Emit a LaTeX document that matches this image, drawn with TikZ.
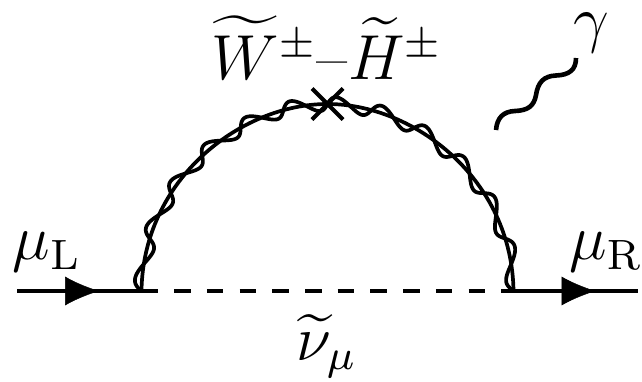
\documentclass[tikz,border=0pt]{standalone}
\usepackage{amsmath}
\usetikzlibrary{decorations.markings,arrows.meta}
\tikzset{
 fermion/.style={line width=4.2pt,postaction={decorate},decoration={markings,mark=at position 82pt with {\arrow[line width=0.5pt]{Latex[length=34pt,width=29pt]}}}},
 scalar/.style={line width=4.2pt,dash pattern=on 16.5pt off 16.2pt},
 base/.style={line width=3.7pt},
 wave/.style={line width=3.7pt,line join=round},
 crossmark/.style={line width=4.2pt},
 photon/.style={line width=4.6pt,line cap=butt},
 lab/.style={inner sep=0pt,font=\fontsize{12}{12}\selectfont,scale=5.3},
 declare function={
  bx(\t)=(1-\t)^3*141.5+3*(1-\t)^2*\t*143+3*(1-\t)*\t^2*240+\t^3*327.5;
  by(\t)=(1-\t)^3*291+3*(1-\t)^2*\t*180+3*(1-\t)*\t^2*104+\t^3*104;
  dbx(\t)=3*(1-\t)^2*0.015+6*(1-\t)*\t*0.97+3*\t^2*0.875;
  dby(\t)=3*(1-\t)^2*(-1.11)+6*(1-\t)*\t*(-0.76);
  sv(\t)=sin(2160*\t);
  tx(\t)=dbx(\t)/veclen(dbx(\t),dby(\t));
  ty(\t)=dby(\t)/veclen(dbx(\t),dby(\t));
 }
}
\begin{document}
\begin{tikzpicture}[x=1pt,y=-1pt]
\useasboundingbox (0,0) rectangle (642,381);
\coordinate (in) at (17,291);
\coordinate (a) at (141.5,291);
\coordinate (b) at (513.5,291);
\coordinate (out) at (638,291);
\coordinate (x) at (327.5,104);
\draw[fermion] (in) -- (a);
\draw[fermion] (b) -- (out);
\draw[scalar] (a) -- (b);
\draw[base] (a) .. controls (143,180) and (240,104) .. (x) .. controls (415,104) and (512,180) .. (b);
\draw[wave] plot[domain=0:1,samples=240,smooth] ({bx(\x)+sv(\x)*(7*ty(\x)-3*tx(\x))},{by(\x)+sv(\x)*(-7*tx(\x)-3*ty(\x))});
\draw[wave] plot[domain=0:1,samples=240,smooth] ({655-bx(\x)+sv(\x)*(7*ty(\x)+3*tx(\x))},{by(\x)+sv(\x)*(7*tx(\x)-3*ty(\x))});
\draw[crossmark] ([shift={(-15.5,-15.5)}]x) -- ([shift={(15.5,15.5)}]x) ([shift={(15.5,-15.5)}]x) -- ([shift={(-15.5,15.5)}]x);
\draw[photon] (496,130) .. controls (497,118) and (503,111.5) .. (515,111) .. controls (528,110.5) and (534,106) .. (536,95) .. controls (538,82) and (544,76) .. (556,75.5) .. controls (569,75) and (576,70) .. (576,58);
\node[lab] (wl) at (327,48) {$\widetilde{W}^{\pm}\text{--}\widetilde{H}^{\pm}$};
\node[lab] (gam) at (591,33) {$\gamma$};
\node[lab] (ml) at (47,252) {$\mu_{\mathrm{L}}$};
\node[lab] (mr) at (606,252) {$\mu_{\mathrm{R}}$};
\node[lab] (nu) at (326.5,346) {$\widetilde{\nu}_{\mu}$};
\end{tikzpicture}
\end{document}
